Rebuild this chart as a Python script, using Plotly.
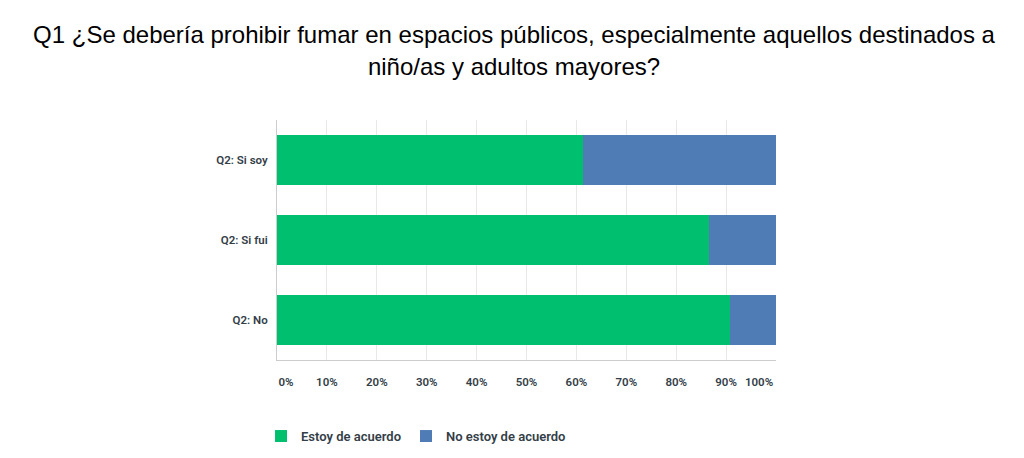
import plotly.graph_objects as go

# survey answers (percent of respondents)
groups = ["Q2: Si soy", "Q2: Si fui", "Q2: No"]
de_acuerdo = [61.3, 86.6, 90.7]
no_de_acuerdo = [38.7, 13.4, 9.3]

tick_vals = [0, 10, 20, 30, 40, 50, 60, 70, 80, 90, 100]
tick_text = ["0%", "10%", "20%", "30%", "40%", "50%", "60%", "70%", "80%", "90%", "100%"]

title = ("Q1 ¿Se debería prohibir fumar en espacios públicos, especialmente aquellos destinados a"
         "<br>niño/as y adultos mayores?")

label_font = dict(family="Roboto, Inter, sans-serif", size=11.5, color="#333e48", weight=600)

fig = go.Figure()
fig.add_trace(go.Bar(y=groups, x=de_acuerdo, name="Estoy de acuerdo", orientation="h",
                     marker=dict(color="#00bf6f", line=dict(width=0)), hoverinfo="x+name"))
fig.add_trace(go.Bar(y=groups, x=no_de_acuerdo, name="No estoy de acuerdo", orientation="h",
                     marker=dict(color="#507cb6", line=dict(width=0)), hoverinfo="x+name"))

# labels at the ends sit inside the plot edges, like the original
label_pos = list(tick_vals)
label_pos[0] = 1.8
label_pos[-1] = 96.6

# page body has an 8px margin, so the figure is a bit smaller than the window
fig.update_layout(
    width=1008, height=442,
    barmode="stack", bargap=0.375,
    paper_bgcolor="white", plot_bgcolor="white",
    margin=dict(l=269, r=240, t=112, b=90, autoexpand=False),
    title=dict(text=title, x=0.502, xanchor="center", y=0.92, yanchor="top",
               font=dict(family="Liberation Sans, Arial, sans-serif", size=24, color="#000000")),
    xaxis=dict(range=[0, 100], tickvals=tick_vals, showticklabels=False, ticks="",
               showgrid=True, gridcolor="#e8e8e8", gridwidth=1, zeroline=False,
               showline=True, linecolor="#cccccc", linewidth=1, fixedrange=True),
    xaxis2=dict(range=[0, 100], overlaying="x", side="bottom", anchor="y",
                tickvals=label_pos, ticktext=tick_text, ticks="", showgrid=False,
                zeroline=False, showline=False, tickfont=label_font,
                ticklabelstandoff=13, fixedrange=True),
    yaxis=dict(categoryorder="array", categoryarray=groups, autorange="reversed",
               ticks="", showgrid=False, showline=True, linecolor="#cccccc", linewidth=1,
               tickfont=label_font, ticklabelstandoff=6, fixedrange=True),
    legend=dict(orientation="h", x=-0.032, xanchor="left", y=-0.317, yanchor="middle",
                font=dict(family="Roboto, Inter, sans-serif", size=13, color="#333e48", weight=600),
                traceorder="normal", itemclick=False, itemdoubleclick=False),
    showlegend=True,
)
# invisible helper so xaxis2 is drawn
fig.add_trace(go.Scatter(x=[0, 100], y=[groups[0], groups[0]], xaxis="x2", mode="markers",
                         marker=dict(opacity=0), showlegend=False, hoverinfo="skip"))

fig.write_html("out.html")
